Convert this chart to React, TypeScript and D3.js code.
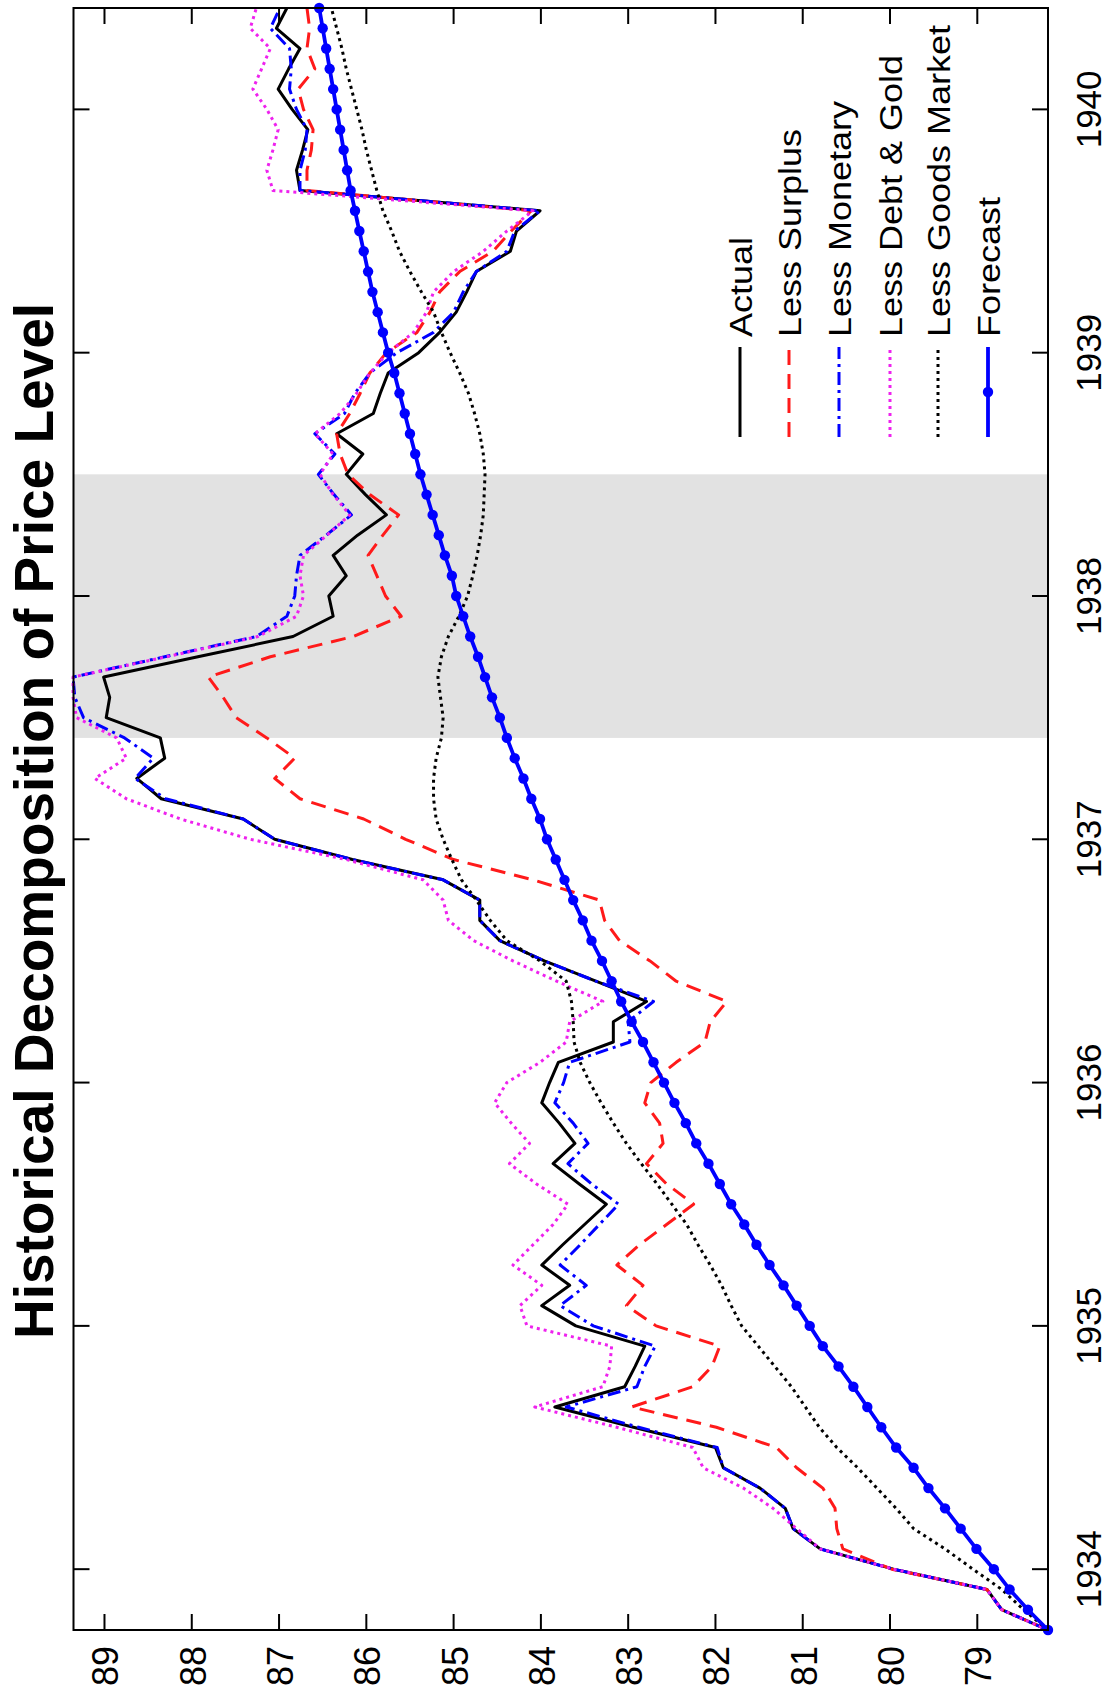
import React from 'react';
import * as d3 from 'd3';

// Monthly observations, 1933:10 … 1940:06 (81 months)
const actual = [
  78.19, 78.72, 78.89, 79.96, 80.80, 81.11, 81.20, 81.49, 81.91, 82.00,
  82.94, 83.84, 83.04, 82.92, 82.81, 83.60, 83.99, 83.67, 83.99, 83.75,
  83.50, 83.25, 83.56, 83.86, 83.61, 83.79, 83.99, 83.90, 83.80, 83.17,
  83.17, 82.79, 83.37, 83.96, 84.47, 84.70, 84.70, 85.12, 86.16, 87.05,
  87.41, 88.35, 88.63, 88.31, 88.36, 88.98, 88.94, 89.01, 87.93, 86.84,
  86.38, 86.43, 86.23, 86.38, 86.10, 85.77, 86.01, 86.23, 86.04, 86.34,
  85.92, 85.84, 85.75, 85.40, 85.16, 84.97, 84.85, 84.74, 84.35, 84.28,
  84.01, 86.76, 86.80, 86.73, 86.67, 86.85, 87.01, 86.89, 86.76, 87.03,
  86.91,
];
const lessSurplus = [
  78.19, 78.72, 78.89, 79.98, 80.54, 80.61, 80.63, 80.77, 81.07, 81.30,
  81.99, 82.96, 82.26, 82.04, 81.95, 82.68, 83.02, 82.83, 83.13, 82.87,
  82.56, 82.25, 82.56, 82.79, 82.60, 82.64, 82.81, 82.74, 82.45, 82.12,
  82.06, 81.87, 82.45, 82.75, 83.10, 83.27, 83.33, 84.09, 85.00, 85.55,
  86.03, 86.76, 87.05, 86.82, 87.14, 87.49, 87.64, 87.81, 87.10, 86.15,
  85.60, 85.78, 85.88, 85.98, 85.81, 85.63, 85.96, 86.21, 86.30, 86.34,
  86.19, 86.07, 85.96, 85.77, 85.42, 85.27, 85.16, 84.93, 84.55, 84.34,
  84.11, 86.68, 86.68, 86.63, 86.61, 86.72, 86.78, 86.59, 86.68, 86.65,
  86.68,
];
const lessMonetary = [
  78.19, 78.72, 78.89, 79.96, 80.80, 81.11, 81.20, 81.49, 81.91, 81.98,
  82.88, 83.71, 82.90, 82.81, 82.69, 83.40, 83.78, 83.48, 83.78, 83.55,
  83.33, 83.11, 83.42, 83.69, 83.46, 83.63, 83.84, 83.74, 83.67, 82.98,
  83.00, 82.71, 83.37, 83.96, 84.47, 84.70, 84.70, 85.12, 86.16, 87.05,
  87.41, 88.30, 88.65, 88.44, 88.77, 89.24, 89.34, 89.36, 88.31, 87.26,
  86.91, 86.82, 86.80, 86.76, 86.46, 86.17, 86.37, 86.55, 86.36, 86.59,
  86.25, 86.13, 85.96, 85.65, 85.23, 85.00, 84.89, 84.74, 84.39, 84.30,
  84.01, 86.76, 86.76, 86.70, 86.68, 86.80, 86.88, 86.86, 86.88, 87.10,
  86.99,
];
const lessDebtGold = [
  78.19, 78.72, 78.89, 79.96, 80.80, 81.07, 81.34, 81.68, 82.14, 82.26,
  83.13, 84.07, 83.29, 83.21, 83.19, 84.16, 84.24, 83.99, 84.32, 84.09,
  83.86, 83.69, 84.05, 84.36, 84.13, 84.34, 84.53, 84.39, 84.01, 83.71,
  83.67, 83.29, 83.82, 84.32, 84.77, 85.06, 85.12, 85.35, 86.23, 87.33,
  88.13, 88.75, 89.11, 88.75, 88.86, 89.32, 89.36, 89.36, 88.29, 87.24,
  86.80, 86.72, 86.76, 86.72, 86.45, 86.19, 86.38, 86.53, 86.38, 86.59,
  86.30, 86.11, 85.96, 85.75, 85.46, 85.31, 85.23, 85.00, 84.66, 84.39,
  84.09, 87.07, 87.14, 87.07, 87.01, 87.14, 87.30, 87.20, 87.10, 87.33,
  87.26,
];
const lessGoodsMarket = [
  78.19, 78.47, 78.72, 79.05, 79.37, 79.73, 79.93, 80.15, 80.37, 80.61,
  80.81, 80.97, 81.13, 81.32, 81.51, 81.70, 81.82, 81.93, 82.06, 82.20,
  82.33, 82.50, 82.67, 82.85, 83.02, 83.17, 83.31, 83.44, 83.55, 83.62,
  83.63, 83.65, 83.71, 84.01, 84.39, 84.58, 84.74, 84.91, 85.02, 85.12,
  85.20, 85.23, 85.23, 85.20, 85.14, 85.12, 85.15, 85.18, 85.14, 85.06,
  84.94, 84.84, 84.78, 84.73, 84.69, 84.66, 84.65, 84.64, 84.66, 84.70,
  84.76, 84.83, 84.93, 85.04, 85.14, 85.23, 85.37, 85.50, 85.62, 85.71,
  85.81, 85.88, 85.94, 86.00, 86.05, 86.11, 86.17, 86.23, 86.28, 86.34,
  86.40,
];
const forecast = [
  78.19, 78.42, 78.63, 78.81, 79.01, 79.19, 79.37, 79.56, 79.73, 79.93,
  80.10, 80.26, 80.42, 80.59, 80.77, 80.92, 81.07, 81.22, 81.38, 81.53,
  81.67, 81.82, 81.95, 82.08, 82.22, 82.34, 82.47, 82.59, 82.71, 82.83,
  82.96, 83.08, 83.19, 83.30, 83.42, 83.52, 83.63, 83.73, 83.83, 83.93,
  84.01, 84.11, 84.20, 84.30, 84.39, 84.47, 84.56, 84.64, 84.72, 84.81,
  84.89, 84.97, 85.02, 85.10, 85.17, 85.24, 85.31, 85.38, 85.44, 85.50,
  85.56, 85.62, 85.68, 85.75, 85.81, 85.87, 85.93, 85.98, 86.03, 86.08,
  86.13, 86.18, 86.22, 86.26, 86.30, 86.34, 86.38, 86.42, 86.46, 86.50,
  86.54,
];

const yearLabels = ['1934', '1935', '1936', '1937', '1938', '1939', '1940'];
const yearTickMonth = [3, 15, 27, 39, 51, 63, 75]; // months after 1933:10
const valueTicks = [79, 80, 81, 82, 83, 84, 85, 86, 87, 88, 89];
const recessionMonths = [44, 57];
const seriesLabels = ['Actual', 'Less Surplus', 'Less Monetary', 'Less Debt & Gold', 'Less Goods Market', 'Forecast'];
const titleText = 'Historical Decomposition of Price Level';

const styles = [
  { color: '#000000', dash: '', width: 3 },
  { color: '#ff1a1a', dash: '15,9', width: 3 },
  { color: '#0000ff', dash: '13,5,3,5', width: 3 },
  { color: '#ee22ee', dash: '3,4', width: 3 },
  { color: '#000000', dash: '3,4', width: 3 },
  { color: '#0000ff', dash: '', width: 3.8 },
];

export default function App() {
  const W = 1111;
  const H = 1698;
  const seriesData = [actual, lessSurplus, lessMonetary, lessDebtGold, lessGoodsMarket, forecast];
  const L = 68, R = 1690, T = 73.5, B = 1048;
  const x = d3.scaleLinear().domain([0, actual.length - 1]).range([L, R]);
  const y = d3.scaleLinear().domain([78.19, 89.355]).range([B, T]);
  const line = d3.line<number>().x((_, i) => x(i)).y((d) => y(d));
  const font = 'Liberation Sans, Arial, Helvetica, sans-serif';
  const legendRows = [740, 789, 839, 890, 938, 988];
  const lgX0 = 1261, lgX1 = 1351, lgText = 1361;

  return (
    <svg width={W} height={H} style={{ position: 'absolute', left: 0, top: 0, background: '#fff' }} fontFamily={font}>
      <rect x={0} y={0} width={W} height={H} fill="#fff" />
      <g transform={`translate(0,${H}) rotate(-90)`}>
        <rect x={x(recessionMonths[0])} y={T} width={x(recessionMonths[1]) - x(recessionMonths[0])} height={B - T} fill="#e2e2e2" />
        {seriesData.map((s, k) => (
          <path key={k} d={line(s) || ''} fill="none" stroke={styles[k].color} strokeWidth={styles[k].width}
            strokeDasharray={styles[k].dash || undefined} strokeLinejoin="round" />
        ))}
        {forecast.map((d, i) => (
          <circle key={i} cx={x(i)} cy={y(d)} r={5.2} fill="#0000ff" />
        ))}
        <rect x={L} y={T} width={R - L} height={B - T} fill="none" stroke="#000" strokeWidth={2} />
        {yearTickMonth.map((m, k) => (
          <g key={k}>
            <line x1={x(m)} x2={x(m)} y1={B} y2={B - 16} stroke="#000" strokeWidth={2} />
            <line x1={x(m)} x2={x(m)} y1={T} y2={T + 16} stroke="#000" strokeWidth={2} />
            <text x={x(m)} y={1101} textAnchor="middle" fontSize={35} fill="#000">{yearLabels[k]}</text>
          </g>
        ))}
        {valueTicks.map((v) => (
          <g key={v}>
            <line x1={L} x2={L + 16} y1={y(v)} y2={y(v)} stroke="#000" strokeWidth={2} />
            <line x1={R} x2={R - 16} y1={y(v)} y2={y(v)} stroke="#000" strokeWidth={2} />
            <text x={52} y={y(v) + 14} textAnchor="end" fontSize={36} fill="#000">{v}</text>
          </g>
        ))}
        <text x={(1698 - 1350 + 1698 - 292) / 2} y={53} textAnchor="middle" fontSize={55} fontWeight="bold" fill="#000">{titleText}</text>
        {seriesLabels.map((lab, k) => (
          <g key={lab}>
            <line x1={lgX0} x2={lgX1} y1={legendRows[k]} y2={legendRows[k]} stroke={styles[k].color}
              strokeWidth={styles[k].width} strokeDasharray={styles[k].dash || undefined} />
            {k === 5 && <circle cx={(lgX0 + lgX1) / 2} cy={legendRows[k]} r={5.2} fill="#0000ff" />}
            <text transform={`translate(${lgText},${legendRows[k] + 12}) scale(1,0.88)`} fontSize={36} fill="#000">{lab}</text>
          </g>
        ))}
      </g>
    </svg>
  );
}
